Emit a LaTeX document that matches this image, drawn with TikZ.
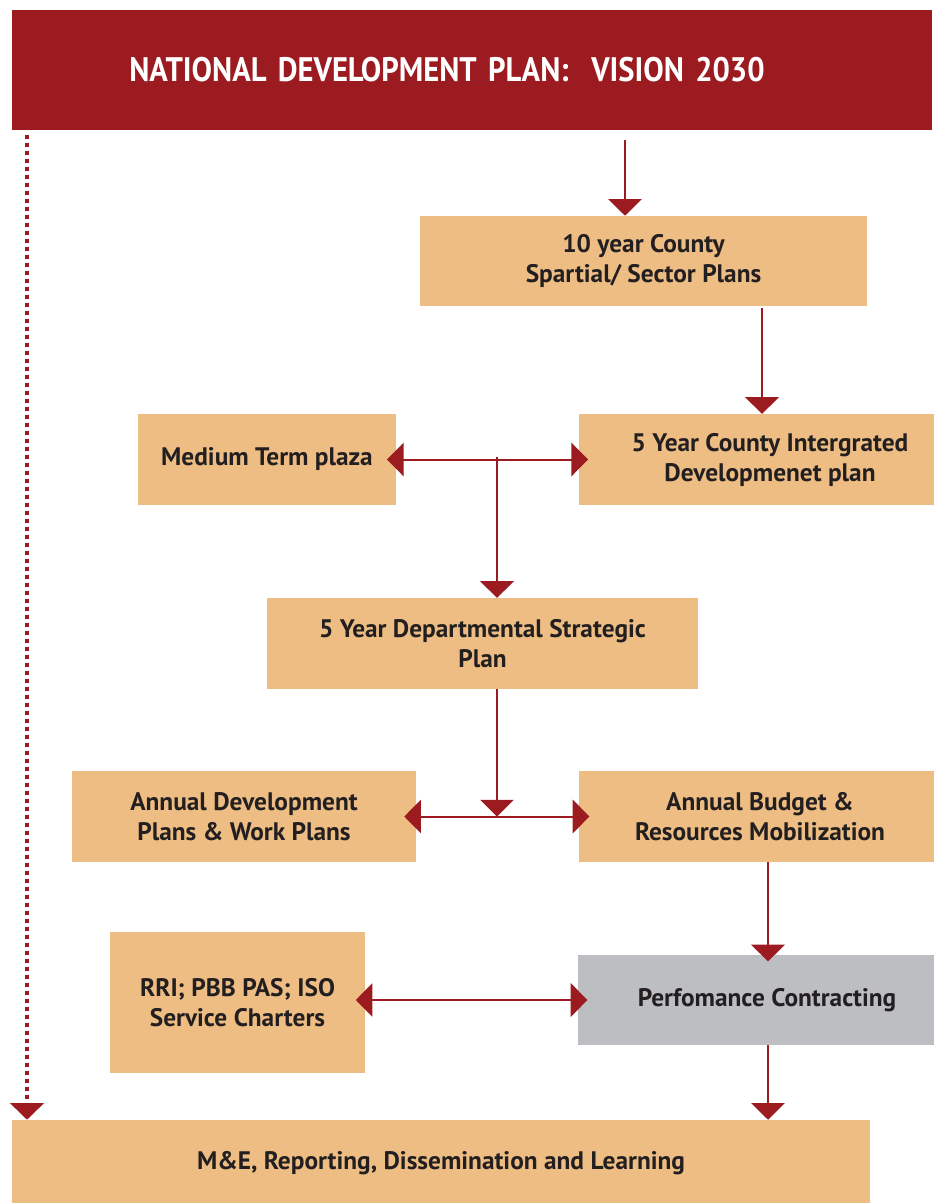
\documentclass[tikz,border=0pt]{standalone}
\usepackage{fontspec}
\setmainfont{PT Sans}
\newfontfamily\titlefont[FakeStretch=0.9]{PT Sans}
\usetikzlibrary{arrows.meta}

\definecolor{ndpred}{HTML}{9B1B20}
\definecolor{plantan}{HTML}{EDBD83}
\definecolor{pcgrey}{HTML}{BDBEC2}
\definecolor{plantext}{HTML}{231F20}

\tikzset{
  planbox/.style={fill=plantan, inner sep=0pt, align=center, text=plantext,
    font=\bfseries\fontsize{19}{22.5}\selectfont},
  flow/.style={draw=ndpred, line width=1.5pt,
    -{Triangle[width=25pt,length=12.5pt]}},
  twoway/.style={flow, {Triangle[width=25pt,length=12.5pt]}-{Triangle[width=25pt,length=12.5pt]},
    shorten <=-7pt, shorten >=-7pt},
}

\begin{document}
\begin{tikzpicture}[x=0.75pt, y=-0.75pt]
  \useasboundingbox (0,0) rectangle (934,1203);

  % boxes
  \node[fill=ndpred, minimum width=690pt, minimum height=90pt, inner sep=0pt,
        text width=690pt, align=left, text=white,
        font=\titlefont\bfseries\fontsize{25.5}{28}\selectfont] (ndp) at (472,70)
        {\hspace*{88pt}NATIONAL DEVELOPMENT PLAN:\ \ VISION 2030};
  \node[planbox, minimum width=335pt, minimum height=67.5pt] (ten) at (643.5,261)
        {10 year County\\Spartial/ Sector Plans};
  \node[planbox, minimum width=286.5pt, minimum height=68pt] (cidp) at (770,459.5)
        {5 Year County Intergrated\\Developmenet plan};
  \node[planbox, minimum width=193.5pt, minimum height=68pt] (mtp) at (267,459.5)
        {Medium Term plaza};
  \node[planbox, minimum width=323pt, minimum height=68pt] (dsp) at (482.5,643.5)
        {5 Year Departmental Strategic\\Plan};
  \node[planbox, minimum width=258pt, minimum height=68pt] (adp) at (244,816.5)
        {Annual Development\\Plans \& Work Plans};
  \node[planbox, minimum width=271.5pt, minimum height=68pt] (abr) at (760,816.5)
        {Annual Budget \&\\Resources Mobilization};
  \node[planbox, minimum width=191pt, minimum height=105.5pt] (rri) at (237.5,1002.5)
        {RRI; PBB PAS; ISO\\Service Charters};
  \node[planbox, fill=pcgrey, minimum width=283pt, minimum height=67.5pt] (pc) at (767,1000)
        {Perfomance Contracting};
  \node[planbox, minimum width=643.5pt, minimum height=64.5pt] (me) at (441,1163)
        {M\&E, Reporting, Dissemination and Learning};

  % junctions
  \coordinate (a1) at (625,140);
  \coordinate (a2) at (762,308);
  \coordinate (j1) at (497,457);
  \coordinate (j2) at (497,816.5);
  \coordinate (a3) at (768,862);
  \coordinate (d1) at (27,135);

  % connectors
  \draw[flow] (a1) -- (a1 |- ten.north);
  \draw[flow] (a2) -- (a2 |- cidp.north);
  \draw[twoway] (mtp.east) -- (cidp.west);
  \draw[flow] (j1) -- (j1 |- dsp.north);
  \draw[flow] (dsp.south -| j2) -- (j2);
  \draw[twoway, shorten <=-9pt, shorten >=-8pt] (adp.east) -- (abr.west);
  \draw[flow, shorten >=-5pt] (a3) -- (a3 |- pc.north);
  \draw[twoway] (rri.east |- pc.west) -- (pc.west);
  \draw[flow] (pc.south -| a3) -- (a3 |- me.north);
  \draw[flow, line width=2.6pt, dash pattern=on 3pt off 3pt] (d1) -- (d1 |- me.north);
\end{tikzpicture}
\end{document}
